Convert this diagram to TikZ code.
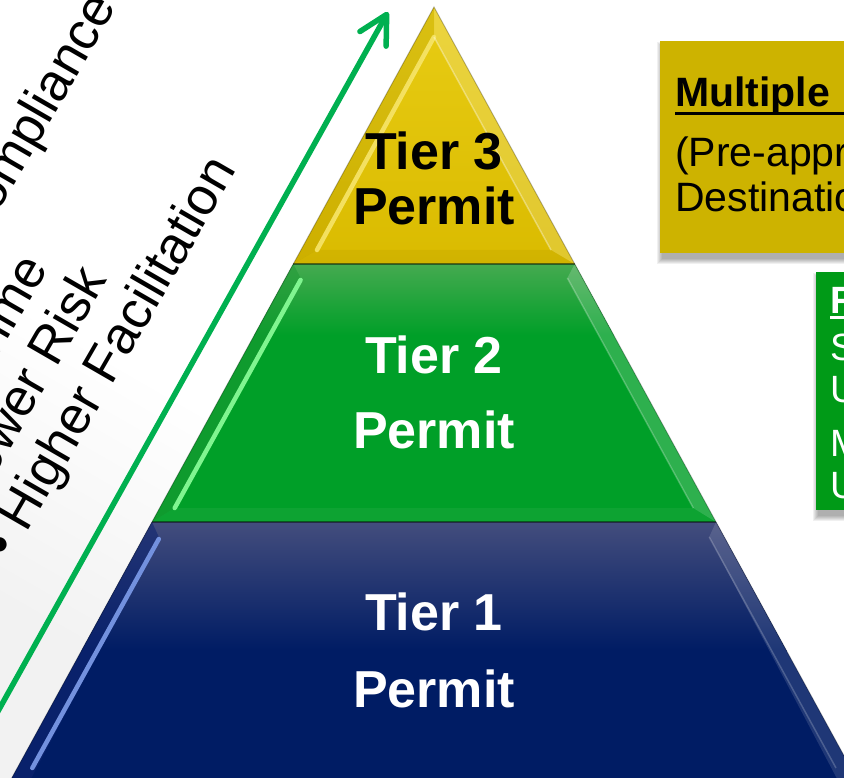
\documentclass[tikz,border=0pt]{standalone}
\usepackage{fontspec}
\setmainfont{Liberation Sans}
\usetikzlibrary{arrows.meta}
\definecolor{panelgray}{HTML}{F2F2F2}
\definecolor{arrowgreen}{HTML}{00B050}
\definecolor{ymain}{HTML}{DABB00}
\definecolor{ytop}{HTML}{E8CC14}
\definecolor{yhl}{HTML}{F7E56A}
\definecolor{gmain}{HTML}{009F28}
\definecolor{gtop}{HTML}{45AA50}
\definecolor{ghl}{HTML}{80F590}
\definecolor{gleft}{HTML}{1E9935}
\definecolor{bmain}{HTML}{001C64}
\definecolor{btop}{HTML}{434D7D}
\definecolor{bhl}{HTML}{7391DE}
\definecolor{bleft}{HTML}{0F2570}
\definecolor{ybox}{HTML}{CDB300}
\definecolor{gbox}{HTML}{009A17}
\tikzset{
  tiertext/.style={font=\fontsize{52}{60}\selectfont\bfseries, anchor=base, inner sep=0pt},
  lefttext/.style={font=\fontsize{52.5}{56}\selectfont, anchor=base west, inner sep=0pt, rotate=60},
  boxtext/.style={font=\fontsize{41}{45}\selectfont, anchor=base west, inner sep=0pt},
  gboxtext/.style={font=\fontsize{38}{42}\selectfont, text=white, anchor=base west, inner sep=0pt},
  sepline/.style={line width=2pt, black, opacity=0.45},
  hlline/.style={line width=4.5pt, line cap=round},
  arrowline/.style={line width=5.5pt, arrowgreen, line cap=round, line join=round,
     -{Straight Barb[length=28pt, width=30pt, round]}},
}
\begin{document}
\begin{tikzpicture}[x=1pt,y=1pt]
\useasboundingbox (0,0) rectangle (844,-778);
\clip (0,0) rectangle (844,-778);
\fill[white] (0,0) rectangle (844,-778);

% left gradient panel behind the rotated text
\begin{scope}[transform canvas={rotate=60}]
  \fill[panelgray] (-900,300) rectangle (-520,-430);
  \shade[left color=panelgray, right color=white] (-521,300) rectangle (-250,-430);
\end{scope}

% pyramid coordinates
\coordinate (apex) at (434,-7);
\coordinate (l3) at (293.3,-264);
\coordinate (r3) at (574.7,-264);
\coordinate (l2) at (152,-522);
\coordinate (r2) at (716,-522);
\coordinate (l1) at (5.2,-790);
\coordinate (r1) at (862.8,-790);

% Tier 3 (yellow)
\shade[top color=ytop, bottom color=ymain] (apex) -- (l3) -- (r3) -- cycle;
\fill[black, opacity=0.06] (apex) -- (l3) -- (317,-250) -- (434,-37) -- cycle;
\fill[white, opacity=0.18] (apex) -- (r3) -- (551,-250) -- (434,-37) -- cycle;
\fill[black, opacity=0.04] (l3) -- (r3) -- (551,-250) -- (317,-250) -- cycle;
\draw[hlline, yhl, opacity=0.9] (434,-37) -- (317,-250);
\draw[white, opacity=0.35, line width=1.5pt] (434,-37) -- (551,-250);

% Tier 2 (green)
\begin{scope}
  \clip (l3) -- (r3) -- (r2) -- (l2) -- cycle;
  \fill[gmain] (140,-260) rectangle (730,-530);
  \shade[top color=gtop, bottom color=gmain] (140,-264) rectangle (730,-335);
  \fill[gleft, opacity=0.5] (l3) -- (l2) -- (174.7,-508) -- (300.6,-278) -- cycle;
  \fill[white, opacity=0.18] (r3) -- (r2) -- (693.3,-508) -- (567.4,-278) -- cycle;
  \fill[white, opacity=0.05] (l2) -- (r2) -- (693.3,-508) -- (174.7,-508) -- cycle;
  \draw[hlline, ghl] (300.6,-280) -- (174.7,-508);
  \draw[white, opacity=0.25, line width=1.5pt] (567.4,-278) -- (693.3,-508);
\end{scope}

% Tier 1 (blue)
\begin{scope}
  \clip (l2) -- (r2) -- (r1) -- (l1) -- cycle;
  \fill[bmain] (0,-518) rectangle (870,-800);
  \shade[top color=btop, bottom color=bmain] (0,-522) rectangle (870,-650);
  \fill[bleft, opacity=0.6] (l2) -- (l1) -- (25,-790) -- (158.8,-537) -- cycle;
  \fill[white, opacity=0.12] (r2) -- (r1) -- (843,-790) -- (709.2,-537) -- cycle;
  \draw[hlline, bhl] (158.8,-539) -- (32.3,-768);
  \draw[white, opacity=0.2, line width=1.5pt] (709.2,-537) -- (836,-768);
\end{scope}

\draw[sepline] (l3) -- (r3);
\draw[sepline] (l2) -- (r2);
\draw[black, opacity=0.25, line width=1pt] (l1) -- (apex) -- (r1);

% tier labels
\node[tiertext, text=black] (t3a) at (434,-170) {Tier 3};
\node[tiertext, text=black] (t3b) at (434,-225) {Permit};
\node[tiertext, text=white] (t2a) at (434,-373) {Tier 2};
\node[tiertext, text=white] (t2b) at (434,-448) {Permit};
\node[tiertext, text=white] (t1a) at (434,-630) {Tier 1};
\node[tiertext, text=white] (t1b) at (434,-707) {Permit};

% green arrow
\coordinate (arrS) at (-20,-743.5);
\coordinate (arrE) at (388,-12);
\draw[arrowline] (arrS) -- (arrE);

% rotated list
\node[lefttext] (lc1) at (-122.4,-421.8) {\textbullet\ Higher Compliance};
\node[lefttext] (lc2) at (-87.81,-505.28) {\textbullet\ Less Time};
\node[lefttext] (lc3) at (-38.71,-533.63) {\textbullet\ Lower Risk};
\node[lefttext] (lc4) at (10.39,-561.98) {\textbullet\ Higher Facilitation};

% yellow box with shadow
\foreach \s in {0,1,...,5} {
  \fill[black, opacity=0.06] ({662-\s},{-47+\s}) rectangle ({860+\s},{-259-\s});
}
\node[fill=ybox, anchor=north west, minimum width=200pt, minimum height=212pt, inner sep=0pt] (ybx) at (660,-41) {};
\node[boxtext] (yt1) at (675,-107) {\rlap{\rule[-8pt]{200pt}{3pt}}\textbf{Multiple}};
\node[boxtext] (yt2) at (675,-167) {(Pre-approved};
\node[boxtext] (yt3) at (675,-212) {Destinations};

% green box with shadow
\foreach \s in {0,1,...,5} {
  \fill[black, opacity=0.06] ({818-\s},{-278+\s}) rectangle ({880+\s},{-516-\s});
}
\node[fill=gbox, anchor=north west, minimum width=60pt, minimum height=238pt, inner sep=0pt] (gbx) at (816,-272) {};
\node[gboxtext] (gt1) at (830,-313) {\rlap{\rule[-6pt]{40pt}{2.5pt}}\textbf{R}};
\node[gboxtext] (gt2) at (830,-360) {S};
\node[gboxtext] (gt3) at (830,-402) {U};
\node[gboxtext] (gt4) at (830,-456) {M};
\node[gboxtext] (gt5) at (830,-498) {U};
\end{tikzpicture}
\end{document}
